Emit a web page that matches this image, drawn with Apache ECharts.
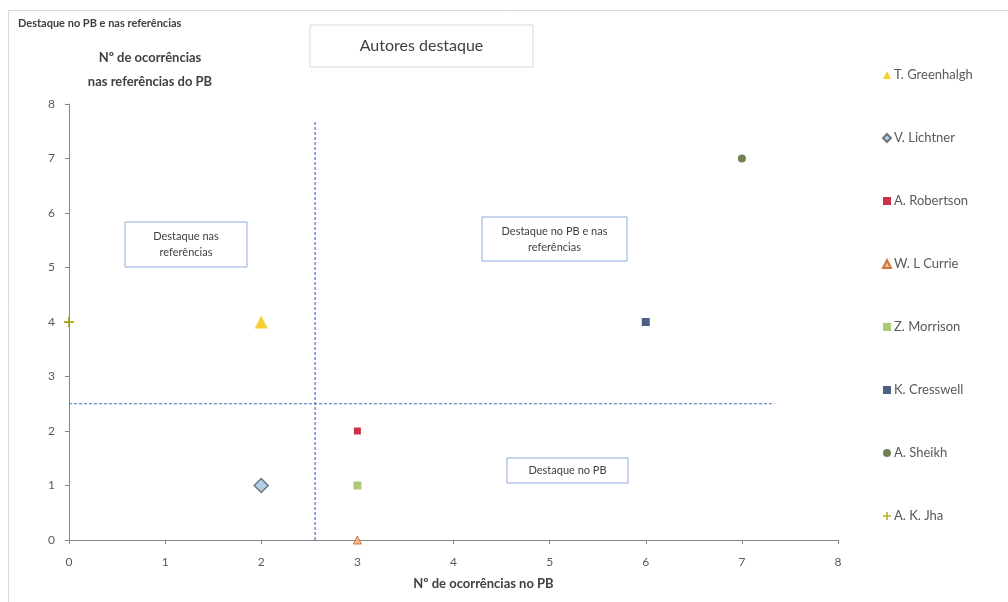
<!DOCTYPE html>
<html>
<head>
<meta charset="utf-8">
<script src="https://cdn.jsdelivr.net/npm/echarts@6/dist/echarts.min.js"></script>
<style>
html,body{margin:0;padding:0;background:#fff;}
#chart{width:1008px;height:602px;}
</style>
</head>
<body>
<div id="chart"></div>
<script>
// ---- Data ----
var authors = ['T. Greenhalgh','V. Lichtner','A. Robertson','W. L Currie','Z. Morrison','K. Cresswell','A. Sheikh','A. K. Jha'];
var occPB   = [2, 2, 3, 3, 3, 6, 7, 0];   // Nº de ocorrências no PB
var occRef  = [4, 1, 2, 0, 1, 4, 7, 4];   // Nº de ocorrências nas referências do PB
var xTicks = [0,1,2,3,4,5,6,7,8];
var yTicks = [0,1,2,3,4,5,6,7,8];
var refVertical   = [[2.56, 0], [2.56, 7.67]];
var refHorizontal = [[0, 2.5], [7.34, 2.5]];

// ---- Styles ----
var FONT = 'Lato, "Open Sans", sans-serif';
var styles = [
  {symbol:'triangle', size:13, color:'#f2c200', border:'#e0b000', bw:0},
  {symbol:'diamond',  size:14, color:'#9dc3e6', border:'#595959', bw:1.5},
  {symbol:'rect',     size:7,  color:'#c0001a', border:'#c0001a', bw:0},
  {symbol:'triangle', size:8,  color:'#f4b183', border:'#c55a11', bw:1},
  {symbol:'rect',     size:8,  color:'#9bbb59', border:'#9bbb59', bw:0},
  {symbol:'rect',     size:8,  color:'#1f3864', border:'#1f3864', bw:0},
  {symbol:'circle',   size:8,  color:'#4f6228', border:'#4f6228', bw:0},
  {symbol:'path://M4,0H6V4H10V6H6V10H4V6H0V4H4Z', size:10, color:'#a39c00', border:'#a39c00', bw:0}
];

var series = authors.map(function(name, i){
  var s = styles[i];
  return {
    name: name,
    type: 'scatter',
    symbol: s.symbol,
    symbolSize: s.size,
    itemStyle: {color: s.color, borderColor: s.border, borderWidth: s.bw},
    data: [[occPB[i], occRef[i]]],
    z: 5
  };
});
var refLineStyle = {color:'#4472c4', width:1.2, type:[3,2]};
series.push({name:'refV', type:'line', data: refVertical, symbol:'none', lineStyle: refLineStyle, silent:true, z:2});
series.push({name:'refH', type:'line', data: refHorizontal, symbol:'none', lineStyle: refLineStyle, silent:true, z:2});

function box(x, y, w, h, text, fs, stroke){
  return {
    type:'group',
    children:[
      {type:'rect', shape:{x:x, y:y, width:w, height:h}, style:{fill:'#fff', stroke:stroke, lineWidth:1}},
      {type:'text', x:x + w/2, y:y + h/2, style:{text:text, fill:'#404040', font:fs + 'px ' + FONT, align:'center', verticalAlign:'middle', lineHeight: fs + 5}}
    ]
  };
}

var chart = echarts.init(document.getElementById('chart'));
chart.setOption({
  backgroundColor:'#fff',
  animation:false,
  textStyle:{fontFamily: FONT},
  grid:{left:69, right:170, top:104, bottom:62},
  xAxis:{
    type:'value', min:0, max:8, interval:1,
    name:'Nº de ocorrências no PB', nameLocation:'middle', nameGap:37,
    nameTextStyle:{color:'#404040', fontWeight:'bold', fontSize:13, fontFamily:FONT, padding:[0,0,0,60]},
    axisLine:{show:true, onZero:false, lineStyle:{color:'#868686'}},
    axisTick:{show:true, length:4, lineStyle:{color:'#868686'}},
    axisLabel:{color:'#595959', fontSize:12, margin:16, formatter:function(v){return xTicks.indexOf(v)>=0 ? String(v) : '';}},
    splitLine:{show:false}
  },
  yAxis:{
    type:'value', min:0, max:8, interval:1,
    axisLine:{show:true, onZero:false, lineStyle:{color:'#868686'}},
    axisTick:{show:true, length:4, lineStyle:{color:'#868686'}},
    axisLabel:{color:'#595959', fontSize:12, margin:14, formatter:function(v){return yTicks.indexOf(v)>=0 ? String(v) : '';}},
    splitLine:{show:false}
  },
  legend:{
    data: authors,
    orient:'vertical', left:877, top:62,
    itemWidth:8, itemHeight:8, itemGap:47,
    textStyle:{color:'#595959', fontSize:13, fontFamily:FONT, lineHeight:16, padding:[0,0,0,-2]}
  },
  graphic:[
    {type:'rect', shape:{x:8.5, y:10.5, width:1000, height:600}, style:{fill:'none', stroke:'#d9d9d9', lineWidth:1}, silent:true, z:-1},
    {type:'text', x:18, y:23, style:{text:'Destaque no PB e nas referências', fill:'#404040', font:'bold 11px ' + FONT, verticalAlign:'middle'}},
    box(310, 25, 223, 42, 'Autores destaque', 16, '#d9d9d9'),
    {type:'text', x:150, y:70, style:{text:'Nº de ocorrências\nnas referências do PB', fill:'#404040', font:'bold 13px ' + FONT, align:'center', verticalAlign:'middle', lineHeight:24}},
    box(125, 222, 122, 45, 'Destaque nas\nreferências', 11, '#8ea9db'),
    box(482, 217, 145, 44, 'Destaque no PB e nas\nreferências', 11, '#8ea9db'),
    box(507, 458, 121, 25, 'Destaque no PB', 11, '#8ea9db')
  ],
  series: series
});
</script>
</body>
</html>
